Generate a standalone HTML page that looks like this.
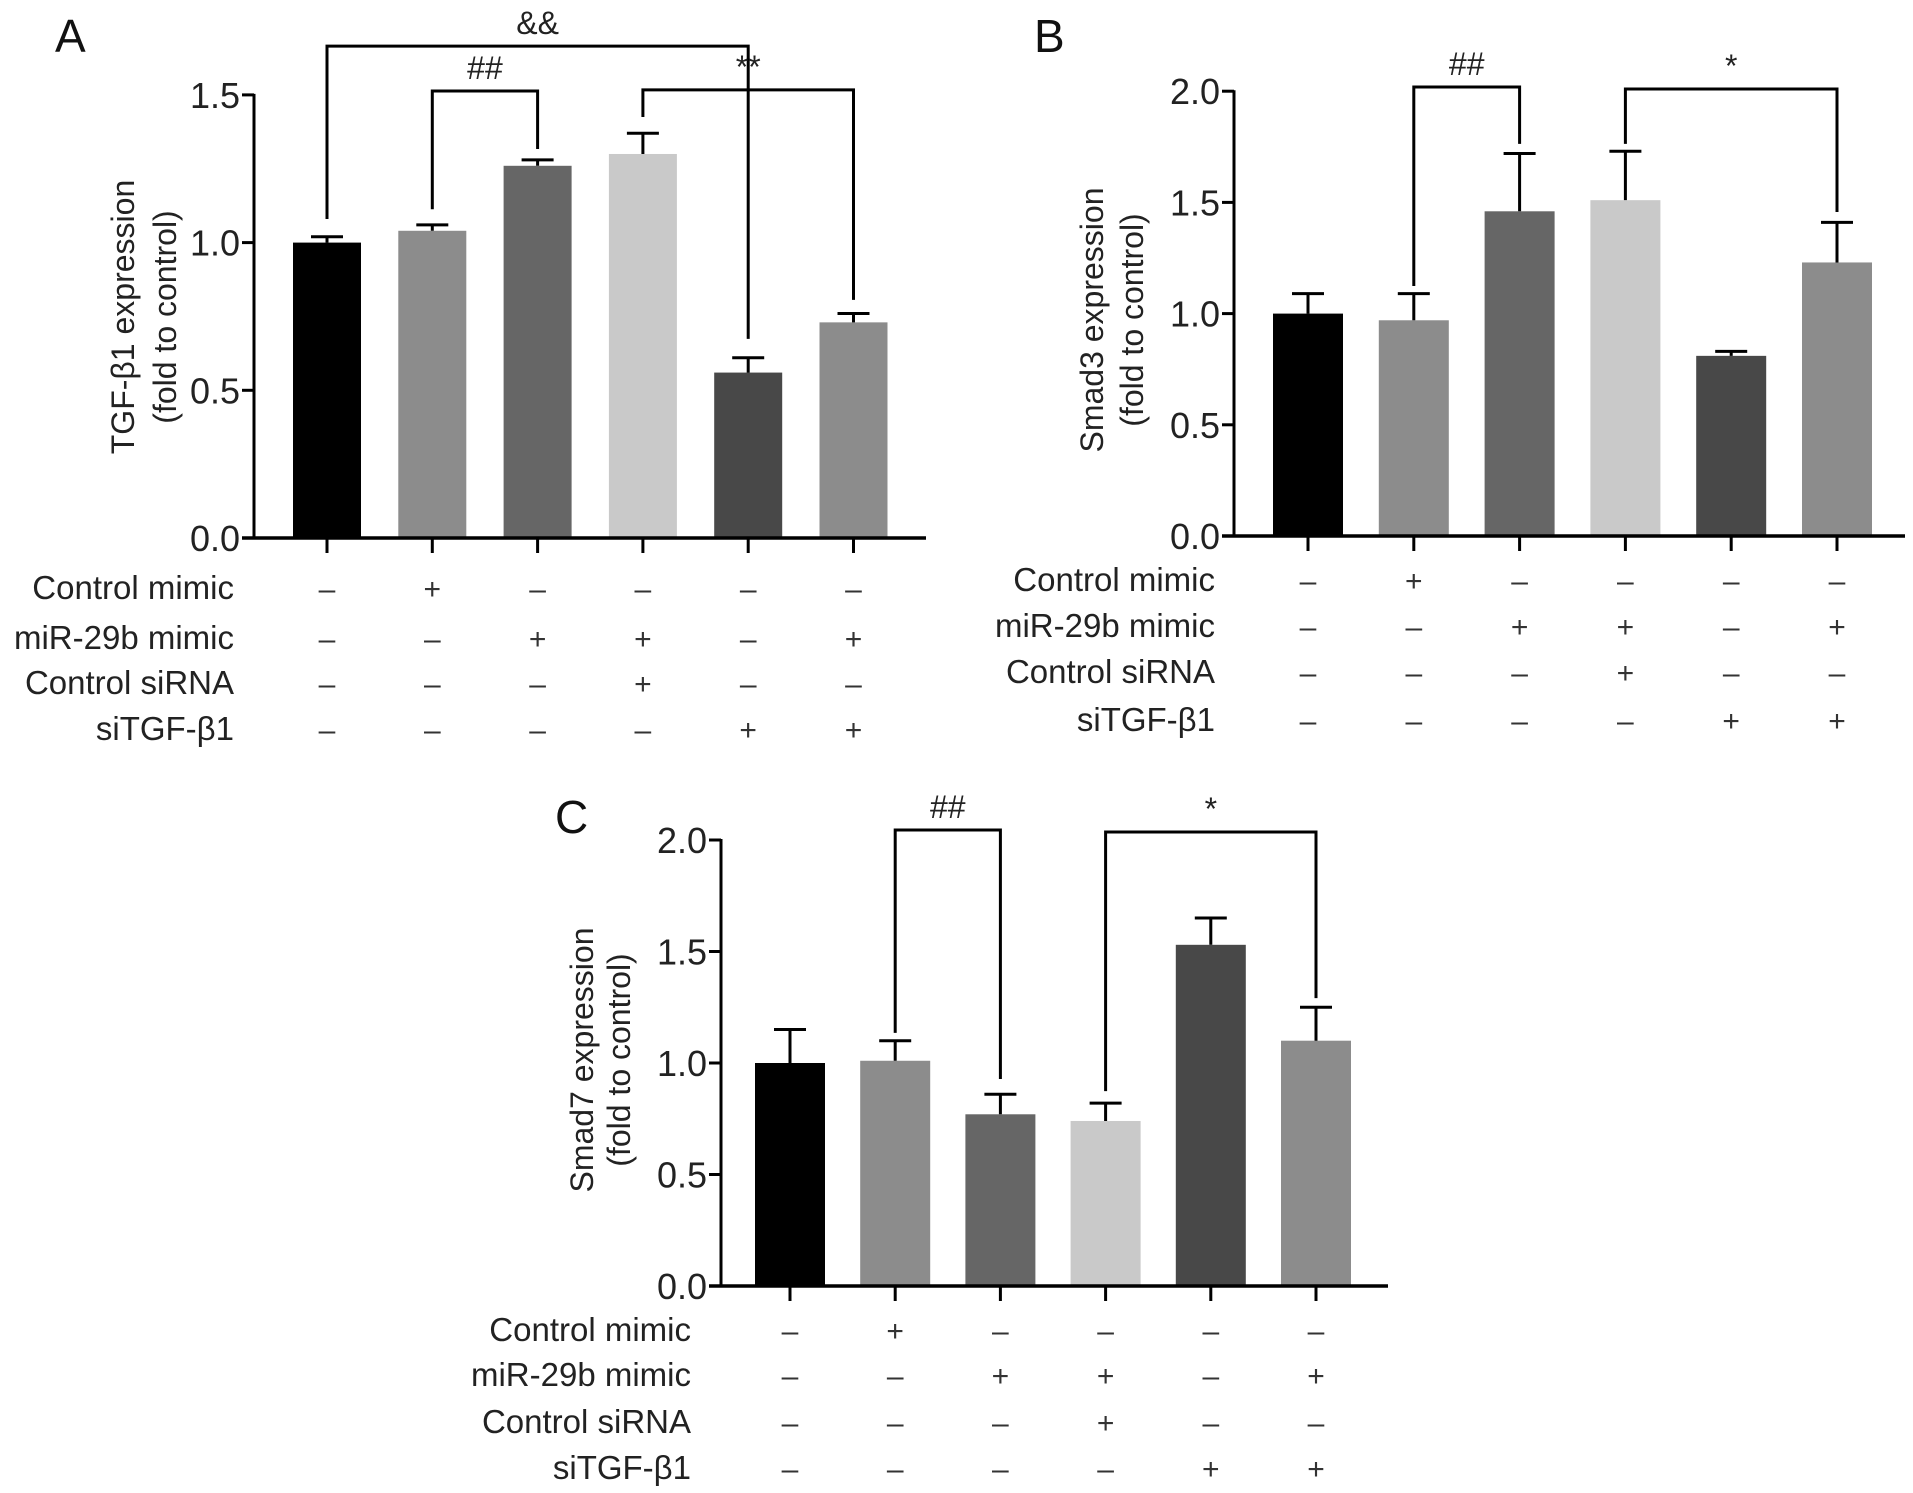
<!DOCTYPE html>
<html><head><meta charset="utf-8">
<style>
html,body{margin:0;padding:0;background:#fff;}
svg{display:block;font-family:"Liberation Sans",Arial,sans-serif;}
</style></head>
<body>
<svg id="fig" width="1913" height="1493" viewBox="0 0 1913 1493" xmlns="http://www.w3.org/2000/svg"></svg>
<script>
// Panel A data
const catsA = ["g1","g2","g3","g4","g5","g6"];
const valsA = [1.00,1.04,1.26,1.30,0.56,0.73];
const errsA = [1.02,1.06,1.28,1.37,0.61,0.76];
const ticksA = [0.0,0.5,1.0,1.5];
const tickLabelsA = ["0.0","0.5","1.0","1.5"];
// Panel B data
const valsB = [1.00,0.97,1.46,1.51,0.81,1.23];
const errsB = [1.09,1.09,1.72,1.73,0.83,1.41];
const ticksB = [0.0,0.5,1.0,1.5,2.0];
const tickLabelsB = ["0.0","0.5","1.0","1.5","2.0"];
// Panel C data
const valsC = [1.00,1.01,0.77,0.74,1.53,1.10];
const errsC = [1.15,1.10,0.86,0.82,1.65,1.25];
const ticksC = [0.0,0.5,1.0,1.5,2.0];
const tickLabelsC = ["0.0","0.5","1.0","1.5","2.0"];
// treatment table
const rowLabels = ["Control mimic","miR-29b mimic","Control siRNA","siTGF-\u03b21"];
const signs = [
 [0,1,0,0,0,0],
 [0,0,1,1,0,1],
 [0,0,0,1,0,0],
 [0,0,0,0,1,1]
];
const colors = ["#000000","#8c8c8c","#666666","#c9c9c9","#484848","#8c8c8c"];
// brackets: [i, j, level, endI, endJ, label]
const bracketsA = [[0,4,1.665,1.08,0.674,"&&"],[1,2,1.513,1.113,1.317,"##"],[3,5,1.517,1.425,0.806,"**"]];
const bracketsB = [[1,2,2.019,1.124,1.763,"##"],[3,5,2.010,1.763,1.457,"*"]];
const bracketsC = [[1,2,2.045,1.135,0.928,"##"],[3,5,2.036,0.874,1.291,"*"]];

const svg = document.getElementById('fig');
const NS = "http://www.w3.org/2000/svg";
function mk(tag, attrs, parent){
  const e = document.createElementNS(NS, tag);
  for (const k in attrs) e.setAttribute(k, attrs[k]);
  (parent||svg).appendChild(e);
  return e;
}
function panel(cfg){
  const g = mk('g', {});
  
  
  const y = v => cfg.y0 - v * cfg.ppu;
  const x = i => cfg.x0 + i * cfg.dx;
  const L = mk('text', {x: cfg.lx, y: cfg.ly, 'font-size': 46, fill: '#111'}, g);
  L.textContent = cfg.id.toUpperCase();
  
  
  cfg.vals.forEach((v, i) => {
    const r = mk('rect', {x: x(i) - cfg.bw/2, y: y(v), width: cfg.bw, height: y(0) - y(v), fill: colors[i]}, g);
    
    
    const e = cfg.errs[i];
    const eb = mk('path', {d: `M${x(i)} ${y(v)}V${y(e)}M${x(i)-16} ${y(e)}H${x(i)+16}`, stroke: '#000', 'stroke-width': 3, fill: 'none'}, g);
    
    
  });
  const ya = mk('line', {x1: cfg.ax, y1: y(cfg.ticks[cfg.ticks.length-1]) - 1, x2: cfg.ax, y2: y(0) + 1.5, stroke: '#000', 'stroke-width': 3}, g);
  
  
  const xa = mk('line', {x1: cfg.ax - 12, y1: y(0), x2: cfg.xend, y2: y(0), stroke: '#000', 'stroke-width': 3.5}, g);
  
  
  cfg.ticks.forEach((t, k) => {
    mk('line', {x1: cfg.ax - 12, y1: y(t), x2: cfg.ax, y2: y(t), stroke: '#000', 'stroke-width': 3}, g);
    const tl = mk('text', {x: cfg.ax - 14, y: y(t) + 13, 'font-size': 36, 'text-anchor': 'end', fill: '#222'}, g);
    tl.textContent = cfg.tickLabels[k];
    
    
  });
  cfg.vals.forEach((v, i) => {
    mk('line', {x1: x(i), y1: y(0), x2: x(i), y2: y(0) + 15, stroke: '#000', 'stroke-width': 3}, g);
  });
  const yt = mk('text', {transform: `translate(${cfg.tx},${cfg.ty}) rotate(-90)`, 'font-size': 32, 'text-anchor': 'middle', fill: '#222'}, g);
  
  
  const t1 = mk('tspan', {x: 0, y: 0}, yt); t1.textContent = cfg.title;
  const t2 = mk('tspan', {x: 0, y: cfg.tx2 - cfg.tx}, yt); t2.textContent = "(fold to control)";
  cfg.brackets.forEach(b => {
    const [i, j, lv, ei, ej, lab] = b;
    const p = mk('path', {d: `M${x(i)} ${y(ei)}V${y(lv)}H${x(j)}V${y(ej)}`, stroke: '#000', 'stroke-width': 3, fill: 'none'}, g);
    
    
    const tt = mk('text', {x: (x(i) + x(j)) / 2, y: y(lv) - 12, 'font-size': 32, 'text-anchor': 'middle', fill: '#222'}, g);
    tt.textContent = lab;
    
    
  });
  rowLabels.forEach((rl, r) => {
    const ty = cfg.rows[r] + 12;
    const t = mk('text', {x: cfg.rx, y: ty, 'font-size': 33, 'text-anchor': 'end', fill: '#222'}, g);
    t.textContent = rl;
    
    
    signs[r].forEach((s, i) => {
      const st = mk('text', {x: x(i), y: ty, 'font-size': 30, 'text-anchor': 'middle', fill: '#333'}, g);
      st.textContent = s ? "+" : "\u2013";
      
      
    });
  });
}
panel({id:'a', vals: valsA, errs: errsA, ticks: ticksA, tickLabels: tickLabelsA, brackets: bracketsA,
  x0: 327, dx: 105.3, bw: 68, y0: 538, ppu: 295.4, ax: 254, xend: 926, lx: 55, ly: 52,
  title: "TGF-\u03b21 expression", tx: 134, tx2: 176, ty: 317, rx: 234, rows: [587,637,682,728]});
panel({id:'b', vals: valsB, errs: errsB, ticks: ticksB, tickLabels: tickLabelsB, brackets: bracketsB,
  x0: 1308, dx: 105.8, bw: 70, y0: 536, ppu: 222.4, ax: 1234, xend: 1905, lx: 1034, ly: 52,
  title: "Smad3 expression", tx: 1103, tx2: 1143, ty: 320, rx: 1215, rows: [579,625,671,719]});
panel({id:'c', vals: valsC, errs: errsC, ticks: ticksC, tickLabels: tickLabelsC, brackets: bracketsC,
  x0: 790, dx: 105.2, bw: 70, y0: 1286, ppu: 223, ax: 721, xend: 1388, lx: 555, ly: 833,
  title: "Smad7 expression", tx: 593, tx2: 630, ty: 1060, rx: 691, rows: [1329,1374,1421,1467]});
</script>
</body></html>
